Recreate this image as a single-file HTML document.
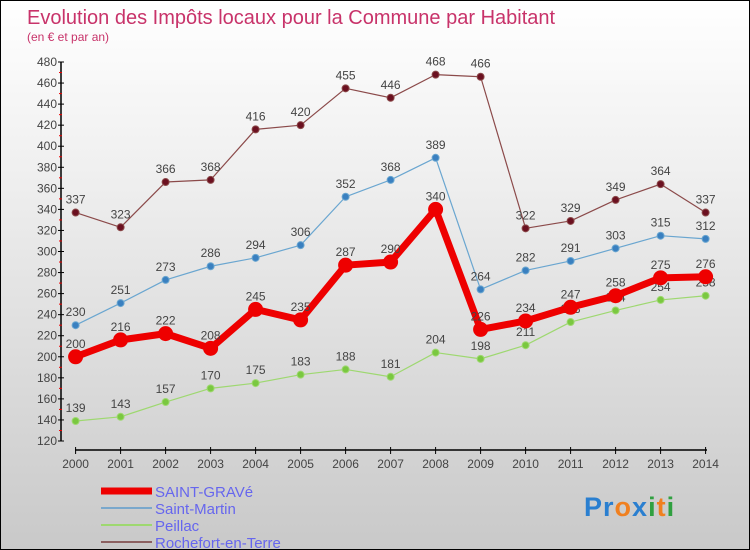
<!DOCTYPE html>
<html><head><meta charset="utf-8"><style>
body{margin:0;}
#c{width:748px;height:548px;border:1px solid #000;background:linear-gradient(#fff,#f0f0f0 30%,#c9c9c9);position:relative;overflow:hidden;font-family:"Liberation Sans",sans-serif;}
</style></head><body>
<div id="c">
<svg id="s" width="748" height="548"></svg>
</div>
<script>
const years=[2000,2001,2002,2003,2004,2005,2006,2007,2008,2009,2010,2011,2012,2013,2014];
const saintGrave=[200,216,222,208,245,235,287,290,340,226,234,247,258,275,276];
const saintMartin=[230,251,273,286,294,306,352,368,389,264,282,291,303,315,312];
const peillac=[139,143,157,170,175,183,188,181,204,198,211,233,244,254,258];
const rochefort=[337,323,366,368,416,420,455,446,468,466,322,329,349,364,337];
const yTicks=[120,140,160,180,200,220,240,260,280,300,320,340,360,380,400,420,440,460,480];
const NS="http://www.w3.org/2000/svg";
const s=document.getElementById('s');
const X=i=>74.6+i*45.0;
const Y=v=>440-(v-120)*(379/360);
function mk(t,a,txt){const e=document.createElementNS(NS,t);for(const k in a)e.setAttribute(k,a[k]);if(txt!==undefined)e.textContent=txt;s.appendChild(e);return e;}
let e;
e=mk('text',{x:26,y:23,'font-size':20,fill:'#c8336a'},'Evolution des Impôts locaux pour la Commune par Habitant');

e=mk('text',{x:26,y:40,'font-size':12,fill:'#c8336a'},'(en € et par an)');

// axes
e=mk('line',{x1:60,y1:Y(480),x2:60,y2:Y(120),stroke:'#000','stroke-width':1.5});

e=mk('line',{x1:74,y1:449,x2:706,y2:449,stroke:'#000','stroke-width':1.5});

yTicks.forEach((v,i)=>{
 e=mk('line',{x1:57,y1:Y(v),x2:63,y2:Y(v),stroke:'#000'});
 
 if(i<yTicks.length-1){e=mk('line',{x1:58,y1:Y(v+10),x2:61,y2:Y(v+10),stroke:'#e00'});
 }
 e=mk('text',{x:56,y:Y(v)+4,'font-size':12,'text-anchor':'end',fill:'#444'},v);
 
});
years.forEach((yr,i)=>{
 e=mk('line',{x1:X(i),y1:446,x2:X(i),y2:453,stroke:'#000'});
 
 e=mk('text',{x:X(i),y:467,'font-size':12,'text-anchor':'middle',fill:'#444'},yr);
 
});
function series(vals,color,dot,w,r,name){
 e=mk('polyline',{points:vals.map((v,i)=>X(i)+','+Y(v)).join(' '),fill:'none',stroke:color,'stroke-width':w,'stroke-linejoin':'round'});
 
 vals.forEach((v,i)=>{
  e=mk('circle',{cx:X(i),cy:Y(v),r:r,fill:dot,stroke:color,'stroke-width':1});
  
  e=mk('text',{x:X(i),y:Y(v)-9,'font-size':12,'text-anchor':'middle',fill:'#444'},v);
  
 });
}
series(rochefort,'#8b4a4a','#6b1020',1.2,3.5,'rochefort');
series(saintMartin,'#6aa6d0','#3a80c0',1.2,3.5,'saint-martin');
series(peillac,'#9ed870','#7ac840',1.2,3.5,'peillac');
series(saintGrave,'#ee0000','#ee0000',7,7,'saint-grave');
// legend
const leg=[['SAINT-GRAVé','#ee0000',7],['Saint-Martin','#7aa8cc',2],['Peillac','#9ed870',2],['Rochefort-en-Terre','#8b6060',2]];
leg.forEach((l,i)=>{
 const y=490+i*17;
 e=mk('line',{x1:100,y1:y,x2:151,y2:y,stroke:l[1],'stroke-width':l[2]});
 
 e=mk('text',{x:154,y:y+6,'font-size':15,fill:'#6666ee'},l[0]);
 
});
e=mk('text',{x:583,y:515,'font-size':27,'font-weight':'bold','letter-spacing':1},'');

[['Pr','#2a7fd0'],['o','#f08020'],['x','#2a7fd0'],['i','#30a040'],['t','#f08020'],['i','#30a040']].forEach(p=>{
 const t=document.createElementNS(NS,'tspan');t.setAttribute('fill',p[1]);t.textContent=p[0];e.appendChild(t);
});
</script>
</body></html>
